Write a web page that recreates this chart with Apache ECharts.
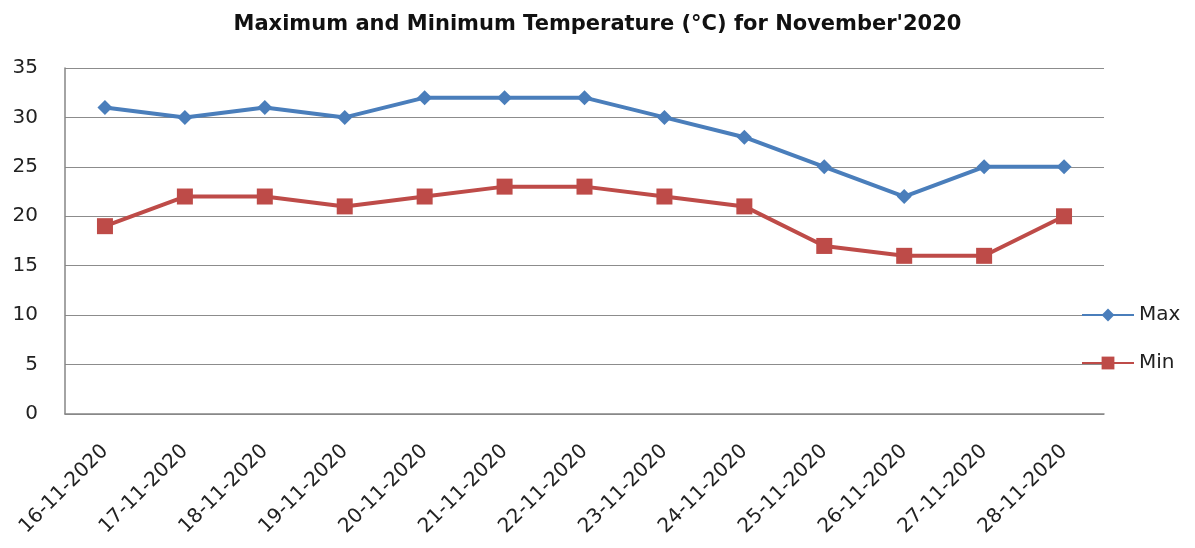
<!DOCTYPE html>
<html><head><meta charset="utf-8">
<script src="https://cdn.jsdelivr.net/npm/echarts@6/dist/echarts.min.js"></script>
<style>html,body{margin:0;padding:0;background:#fff}#c{width:1195px;height:548px}</style>
</head><body><div id="c"></div>
<script>
const categories = ['16-11-2020','17-11-2020','18-11-2020','19-11-2020','20-11-2020','21-11-2020','22-11-2020','23-11-2020','24-11-2020','25-11-2020','26-11-2020','27-11-2020','28-11-2020'];
const maxTemp = [31,30,31,30,32,32,32,30,28,25,22,25,25];
const minTemp = [19,22,22,21,22,23,23,22,21,17,16,16,20];
const yTicks = [0,5,10,15,20,25,30,35];

const chart = echarts.init(document.getElementById('c'));
const font = 'DejaVu Sans, sans-serif';
chart.setOption({
  animation: false,
  backgroundColor: '#fff',
  title: {
    text: "Maximum and Minimum Temperature (°C) for November'2020",
    left: 'center', top: 9,
    textStyle: {fontFamily: font, fontSize: 21, fontWeight: 'bold', color: '#111'}
  },
  legend: {
    orient: 'vertical', left: 1076, top: 300, itemGap: 28,
    itemWidth: 52, itemHeight: 16,
    textStyle: {fontFamily: font, fontSize: 20, color: '#222', padding: [0,0,0,0]},
    data: ['Max','Min']
  },
  grid: {left: 65, right: 91, top: 68, bottom: 134},
  xAxis: {
    type: 'category', data: categories, boundaryGap: true,
    axisLine: {lineStyle: {color: '#868686', width: 1.5}},
    axisTick: {show: false},
    axisLabel: {rotate: 45, fontFamily: font, fontSize: 20, color: '#222', margin: 34, interval: 0}
  },
  yAxis: {
    type: 'value', min: yTicks[0], max: yTicks[yTicks.length-1], interval: 5,
    axisLine: {show: true, lineStyle: {color: '#868686', width: 1.5}},
    axisTick: {show: false},
    axisLabel: {fontFamily: font, fontSize: 20, color: '#222', margin: 27, align: 'right'},
    splitLine: {lineStyle: {color: '#8c8c8c', width: 1.2}}
  },
  series: [
    {name: 'Max', type: 'line', data: maxTemp, symbol: 'diamond', symbolSize: 15,
     lineStyle: {color: '#4a7ebb', width: 4}, itemStyle: {color: '#4a7ebb'}},
    {name: 'Min', type: 'line', data: minTemp, symbol: 'rect', symbolSize: 16,
     lineStyle: {color: '#be4b48', width: 4}, itemStyle: {color: '#be4b48'}}
  ]
});
</script></body></html>
